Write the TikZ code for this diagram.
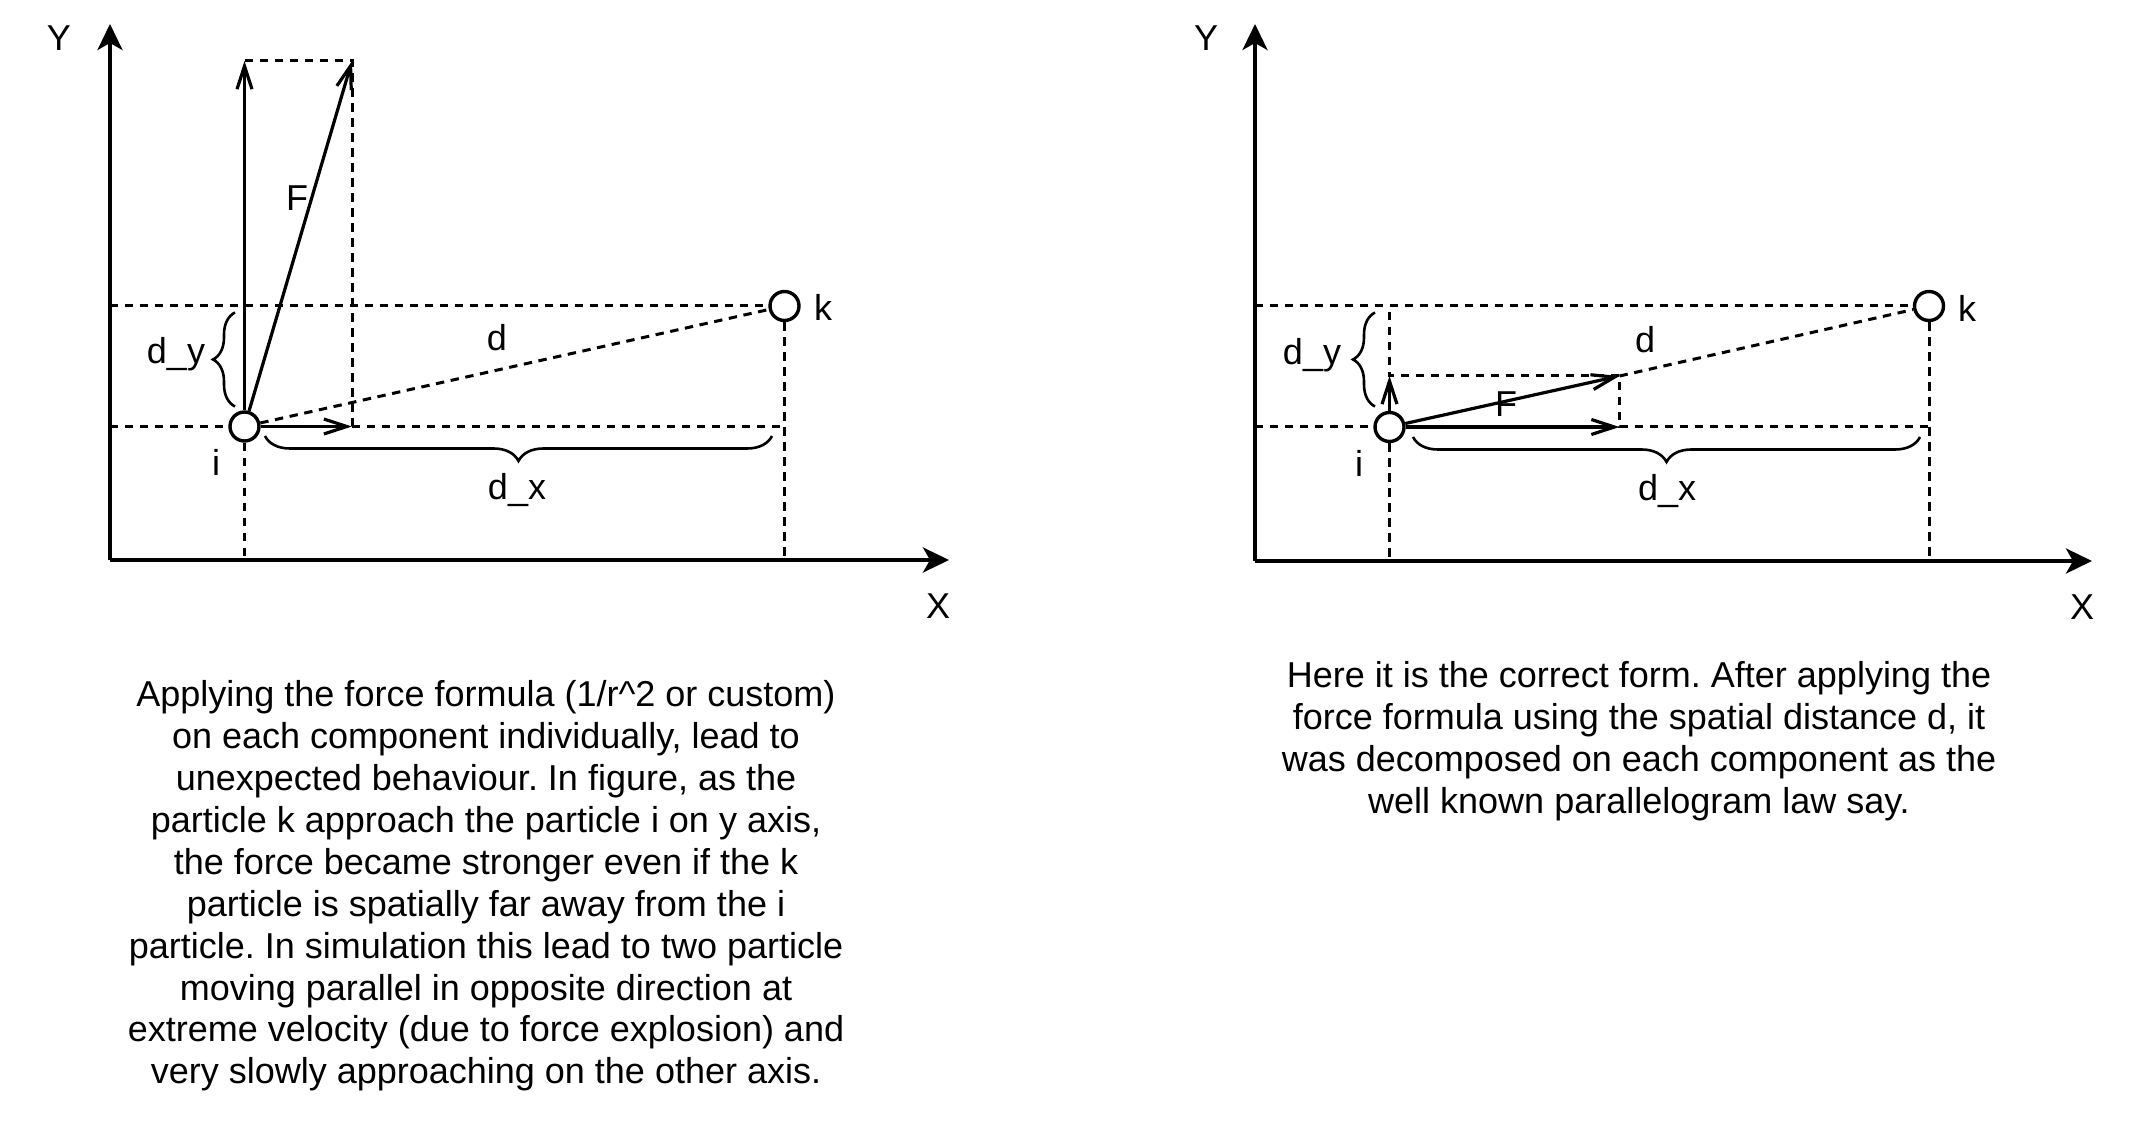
\documentclass[tikz,border=0pt]{standalone}
\usepackage{fontspec}
\setmainfont{Liberation Sans}
\usetikzlibrary{arrows.meta,decorations.pathreplacing}
\frenchspacing

\begin{document}
\begin{tikzpicture}[x=0.5pt,y=-0.5pt,
 axisline/.style={line width=2pt,-{Stealth[length=13pt,width=12.5pt,inset=3.5pt]}},
 dashline/.style={line width=1.5pt,dash pattern=on 4.2pt off 3.3pt},
 forcearrow/.style={line width=1.6pt,-{Straight Barb[length=11.5pt,width=7.5pt,line width=1.6pt]}},
 particle/.style={circle,draw,line width=1.7pt,minimum size=14.5pt,inner sep=0pt,fill=white},
 lbl/.style={font=\fontsize{18pt}{21pt}\selectfont,inner sep=0pt},
 bracepath/.style={line width=1.3pt,decorate,decoration={brace,amplitude=#1}},
 caption/.style={font=\fontsize{18pt}{20.95pt}\selectfont\frenchspacing,align=center,inner sep=0pt}
]
\useasboundingbox (0,0) rectangle (2145,1122);

% ---------------- left diagram ----------------
\coordinate (oL) at (110,560);
\coordinate (yL) at (110,24);
\coordinate (xL) at (949,560);
\node[particle] (iL) at (244.5,426.5) {};
\node[particle] (kL) at (784.5,306) {};
\coordinate (tL) at (244.5,61);
\coordinate (cL) at (352,61);
\coordinate (hL) at (352,426.5);

\draw[axisline] (oL) -- (yL);
\draw[axisline] (oL) -- (xL);

\draw[dashline] (tL) -- (cL) -- (hL);
\draw[dashline] (hL) -- (kL |- hL);
\draw[dashline] (oL |- iL) -- (iL.west);
\draw[dashline] (oL |- kL) -- (kL.west);
\draw[dashline] (iL.south) -- (iL |- oL);
\draw[dashline] (kL.south) -- (kL |- oL);
\draw[dashline] (iL) -- (kL);

\draw[forcearrow] (iL.north) -- (tL);
\draw[forcearrow] (iL) -- (cL);
\draw[forcearrow] (iL.east) -- (hL);

\draw[bracepath=11pt] (235,406.5) -- (235,312.5);
\draw[bracepath=12.5pt] (772,436) -- (265,436);

\node[lbl] (YL) at (59,38) {Y};
\node[lbl] (XL) at (938,606) {X};
\node[lbl] (FL) at (297,198) {F};
\node[lbl] (dL) at (497,338) {d};
\node[lbl] (iLl) at (216,462) {i};
\node[lbl] (kLl) at (823,307) {k};
\node[lbl] (dyL) at (176,354) {d\_y};
\node[lbl] (dxL) at (517,490) {d\_x};

\node[caption] (capL) at (486,886) {Applying the force formula (1/r\^{}2 or custom)\\
on each component individually, lead to\\
unexpected behaviour. In figure, as the\\
particle k approach the particle i on y axis,\\
the force became stronger even if the k\\
particle is spatially far away from the i\\
particle. In simulation this lead to two particle\\
moving parallel in opposite direction at\\
extreme velocity (due to force explosion) and\\
very slowly approaching on the other axis.};

% ---------------- right diagram ----------------
\coordinate (oR) at (1255,561);
\coordinate (yR) at (1255,24);
\coordinate (xR) at (2092,561);
\node[particle] (iR) at (1389.5,427) {};
\node[particle] (kR) at (1929,306) {};
\coordinate (vR) at (1389.5,312);
\coordinate (tR) at (1389.5,376);
\coordinate (cR) at (1619.5,376);
\coordinate (hR) at (1619.5,427);

\draw[axisline] (oR) -- (yR);
\draw[axisline] (oR) -- (xR);

\draw[dashline] (vR) -- (tR) -- (cR) -- (hR) -- (kR |- hR);
\draw[dashline] (oR |- iR) -- (iR.west);
\draw[dashline] (oR |- kR) -- (kR.west);
\draw[dashline] (iR.south) -- (iR |- oR);
\draw[dashline] (kR.south) -- (kR |- oR);
\draw[dashline] (cR) -- (kR);

\draw[forcearrow] (iR.north) -- (tR);
\draw[forcearrow] (iR) -- (cR);
\draw[forcearrow] (iR.east) -- (hR);

\draw[bracepath=11pt] (1375,406.5) -- (1375,312.5);
\draw[bracepath=12.5pt] (1920,437) -- (1413,437);

\node[lbl] (YR) at (1206,38) {Y};
\node[lbl] (XR) at (2082,607) {X};
\node[lbl] (FR) at (1506,404) {F};
\node[lbl] (dR) at (1645,340) {d};
\node[lbl] (iRl) at (1359,463) {i};
\node[lbl] (kRl) at (1967,308) {k};
\node[lbl] (dyR) at (1312,355) {d\_y};
\node[lbl] (dxR) at (1667,491) {d\_x};

\node[caption] (capR) at (1639,741) {Here it is the correct form. After applying the\\
force formula using the spatial distance d, it\\
was decomposed on each component as the\\
well known parallelogram law say.};
\end{tikzpicture}
\end{document}
